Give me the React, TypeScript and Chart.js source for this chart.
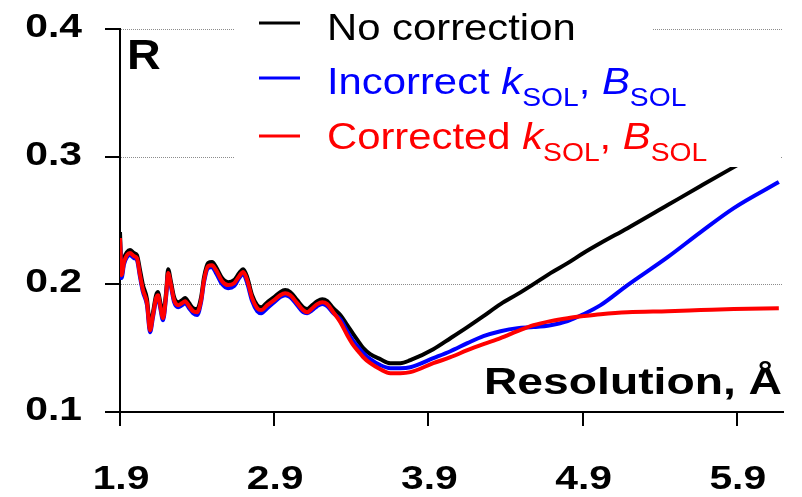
import React, { useEffect, useRef } from 'react';
import { Chart, registerables } from 'chart.js';

Chart.register(...registerables);

// ---- data ----
const resolution = [
  1.900, 1.910, 1.926, 1.945, 1.965, 1.991, 2.010, 2.030, 2.049, 2.075,
  2.095, 2.114, 2.134, 2.147, 2.160, 2.179, 2.199, 2.212, 2.231, 2.251,
  2.277, 2.303, 2.322, 2.348, 2.374, 2.400, 2.426, 2.445, 2.471, 2.497,
  2.523, 2.562, 2.601, 2.640, 2.673, 2.699, 2.725, 2.757, 2.790, 2.816,
  2.855, 2.900, 2.939, 2.971, 3.004, 3.049, 3.088, 3.114, 3.147, 3.179,
  3.212, 3.244, 3.283, 3.329, 3.374, 3.413, 3.445, 3.478, 3.523, 3.588,
  3.653, 3.718, 3.783, 3.932, 4.043, 4.153, 4.257, 4.368, 4.478, 4.582,
  4.692, 4.803, 4.906, 5.017, 5.192, 5.452, 5.666, 5.881, 6.173,
];

const rNoCorrection = [
  0.2409, 0.2111, 0.2205, 0.2252, 0.2268, 0.2245, 0.2229, 0.2111, 0.1994, 0.1884,
  0.1672, 0.1782, 0.1915, 0.1939, 0.1868, 0.1766, 0.1939, 0.2119, 0.2017, 0.1900,
  0.1860, 0.1876, 0.1892, 0.1853, 0.1813, 0.1806, 0.1900, 0.2056, 0.2166, 0.2174,
  0.2135, 0.2049, 0.2017, 0.2033, 0.2088, 0.2119, 0.2056, 0.1915, 0.1837, 0.1821,
  0.1860, 0.1900, 0.1939, 0.1955, 0.1939, 0.1876, 0.1821, 0.1806, 0.1837, 0.1868,
  0.1884, 0.1868, 0.1813, 0.1759, 0.1680, 0.1610, 0.1555, 0.1500, 0.1453, 0.1414,
  0.1382, 0.1382, 0.1406, 0.1492, 0.1578, 0.1665, 0.1751, 0.1845, 0.1923, 0.2002,
  0.2088, 0.2166, 0.2245, 0.2323, 0.2440, 0.2621, 0.2770, 0.2918, 0.3114,
];

const rIncorrect = [
  0.2346, 0.2049, 0.2158, 0.2213, 0.2229, 0.2205, 0.2190, 0.2056, 0.1939, 0.1837,
  0.1625, 0.1743, 0.1876, 0.1900, 0.1821, 0.1719, 0.1900, 0.2072, 0.1978, 0.1860,
  0.1821, 0.1837, 0.1853, 0.1813, 0.1774, 0.1759, 0.1860, 0.2017, 0.2127, 0.2135,
  0.2088, 0.2002, 0.1970, 0.1986, 0.2049, 0.2080, 0.2009, 0.1868, 0.1790, 0.1774,
  0.1813, 0.1860, 0.1900, 0.1915, 0.1900, 0.1837, 0.1782, 0.1774, 0.1798, 0.1829,
  0.1845, 0.1829, 0.1774, 0.1727, 0.1633, 0.1555, 0.1508, 0.1461, 0.1414, 0.1367,
  0.1343, 0.1343, 0.1351, 0.1422, 0.1476, 0.1539, 0.1594, 0.1633, 0.1657, 0.1665,
  0.1680, 0.1712, 0.1766, 0.1837, 0.1994, 0.2213, 0.2409, 0.2597, 0.2801,
];

const rCorrected = [
  0.2362, 0.2072, 0.2174, 0.2229, 0.2245, 0.2221, 0.2205, 0.2072, 0.1955, 0.1853,
  0.1641, 0.1759, 0.1892, 0.1915, 0.1837, 0.1735, 0.1915, 0.2088, 0.1994, 0.1876,
  0.1837, 0.1853, 0.1868, 0.1829, 0.1790, 0.1782, 0.1876, 0.2033, 0.2143, 0.2150,
  0.2111, 0.2025, 0.1994, 0.2009, 0.2064, 0.2096, 0.2033, 0.1892, 0.1813, 0.1798,
  0.1837, 0.1876, 0.1915, 0.1931, 0.1915, 0.1853, 0.1798, 0.1782, 0.1813, 0.1845,
  0.1860, 0.1845, 0.1782, 0.1704, 0.1602, 0.1524, 0.1476, 0.1429, 0.1382, 0.1335,
  0.1304, 0.1304, 0.1312, 0.1382, 0.1429, 0.1484, 0.1531, 0.1578, 0.1633, 0.1680,
  0.1712, 0.1735, 0.1751, 0.1766, 0.1782, 0.1790, 0.1798, 0.1806, 0.1813,
];

const xTickValues = [1.9, 2.9, 3.9, 4.9, 5.9];
const yTickValues = [0.1, 0.2, 0.3, 0.4];
const seriesNames = ['No correction', 'Incorrect', 'Corrected'];
const seriesColors = ['#000000', '#0000ff', '#ff0000'];
const panelLabel = 'R';
const axisTitle = 'Resolution, Å';

// ---- styling helpers ----
const FAMILY = '"Liberation Sans", Arial, Helvetica, sans-serif';

function drawStretched(
  ctx: CanvasRenderingContext2D,
  text: string,
  x: number,
  y: number,
  font: string,
  color: string,
  sx: number,
  align: 'left' | 'right' | 'center' = 'left'
): number {
  ctx.save();
  ctx.font = font;
  ctx.fillStyle = color;
  ctx.textBaseline = 'alphabetic';
  ctx.textAlign = 'left';
  const w = ctx.measureText(text).width * sx;
  const left = align === 'right' ? x - w : align === 'center' ? x - w / 2 : x;
  ctx.translate(left, y);
  ctx.scale(sx, 1);
  ctx.fillText(text, 0, 0);
  ctx.restore();
  return w;
}

const annotationPlugin = {
  id: 'annotations',
  beforeDatasetsDraw(chart: any) {
    const { ctx, chartArea, scales } = chart;
    const ys = scales.y;
    ctx.save();
    ctx.strokeStyle = '#8c8c8c';
    ctx.lineWidth = 1;
    ctx.setLineDash([1, 1]);
    yTickValues.forEach((v) => {
      if (v <= ys.min) return;
      const py = Math.round(ys.getPixelForValue(v)) + 0.5;
      ctx.beginPath();
      ctx.moveTo(chartArea.left + 1, py);
      ctx.lineTo(chartArea.right, py);
      ctx.stroke();
    });
    ctx.restore();
  },
  afterDraw(chart: any) {
    const { ctx, chartArea, scales } = chart;
    const xs = scales.x;
    const ys = scales.y;

    // tick labels
    const tickFont = `bold 34px ${FAMILY}`;
    const tickSx = 1.2;
    yTickValues.forEach((v) => {
      const py = ys.getPixelForValue(v);
      drawStretched(ctx, v.toFixed(1), chartArea.left - 38, py + 8, tickFont, '#000', tickSx, 'right');
    });
    xTickValues.forEach((v) => {
      const px = xs.getPixelForValue(v);
      drawStretched(ctx, v.toFixed(1), px + 1, chartArea.bottom + 77, tickFont, '#000', tickSx, 'center');
    });

    // panel label and axis title
    drawStretched(ctx, panelLabel, chartArea.left + 7, 69, `bold 42px ${FAMILY}`, '#000', 1.11, 'left');
    drawStretched(ctx, axisTitle, chartArea.right - 1, 394, `bold 37px ${FAMILY}`, '#000', 1.25, 'right');

    // legend background
    ctx.save();
    ctx.fillStyle = '#ffffff';
    ctx.fillRect(234, 0, 419, 34);
    ctx.fillRect(234, 33, 547, 134);
    ctx.restore();

    // legend entries
    const sx = 1.13;
    const mainF = `37px ${FAMILY}`;
    const italF = `italic 37px ${FAMILY}`;
    const subF = `25px ${FAMILY}`;
    const rows = [
      { baseline: 40, sampleY: 23, parts: [{ t: seriesNames[0], f: mainF, dy: 0 }] },
      {
        baseline: 94,
        sampleY: 78,
        parts: [
          { t: seriesNames[1] + ' ', f: mainF, dy: 0 },
          { t: 'k', f: italF, dy: 0 },
          { t: 'SOL', f: subF, dy: 12 },
          { t: ', ', f: mainF, dy: 0 },
          { t: 'B', f: italF, dy: 0 },
          { t: 'SOL', f: subF, dy: 12 },
        ],
      },
      {
        baseline: 149,
        sampleY: 136,
        parts: [
          { t: seriesNames[2] + ' ', f: mainF, dy: 0 },
          { t: 'k', f: italF, dy: 0 },
          { t: 'SOL', f: subF, dy: 12 },
          { t: ', ', f: mainF, dy: 0 },
          { t: 'B', f: italF, dy: 0 },
          { t: 'SOL', f: subF, dy: 12 },
        ],
      },
    ];
    rows.forEach((row, i) => {
      const color = seriesColors[i];
      ctx.save();
      ctx.strokeStyle = color;
      ctx.lineWidth = 3;
      ctx.beginPath();
      ctx.moveTo(259, row.sampleY);
      ctx.lineTo(300, row.sampleY);
      ctx.stroke();
      ctx.restore();
      let x = 327;
      row.parts.forEach((p) => {
        x += drawStretched(ctx, p.t, x, row.baseline + p.dy, p.f, color, sx, 'left');
      });
    });
  },
};

export default function App() {
  const canvasRef = useRef<HTMLCanvasElement>(null);

  useEffect(() => {
    document.body.style.margin = '0';
    const canvas = canvasRef.current;
    if (!canvas) return;
    const mk = (vals: number[]) => resolution.map((x, i) => ({ x, y: vals[i] }));
    const chart = new Chart(canvas, {
      type: 'line',
      data: {
        datasets: [
          { label: seriesNames[0], data: mk(rNoCorrection), borderColor: seriesColors[0], order: 3 },
          { label: seriesNames[1], data: mk(rIncorrect), borderColor: seriesColors[1], order: 2 },
          { label: seriesNames[2], data: mk(rCorrected), borderColor: seriesColors[2], order: 1 },
        ].map((d) => ({
          ...d,
          borderWidth: 4,
          pointRadius: 0,
          fill: false,
          cubicInterpolationMode: 'monotone' as const,
        })),
      },
      options: {
        responsive: false,
        maintainAspectRatio: false,
        devicePixelRatio: 1,
        animation: false,
        layout: { padding: { left: 0, top: 29, right: 19, bottom: 0 } },
        plugins: { legend: { display: false }, tooltip: { enabled: false } },
        scales: {
          x: {
            type: 'linear',
            min: 1.9,
            max: 6.2,
            afterBuildTicks: (s: any) => {
              s.ticks = xTickValues.map((v) => ({ value: v }));
            },
            afterFit: (s: any) => {
              s.height = 85;
            },
            ticks: { display: false },
            grid: {
              drawOnChartArea: false,
              drawTicks: true,
              tickLength: 14,
              tickColor: '#000',
              tickWidth: 2,
              lineWidth: 2,
              color: '#000',
            },
            border: { display: true, color: '#000', width: 2 },
          },
          y: {
            type: 'linear',
            min: 0.1,
            max: 0.4,
            afterBuildTicks: (s: any) => {
              s.ticks = yTickValues.map((v) => ({ value: v }));
            },
            afterFit: (s: any) => {
              s.width = 120;
            },
            ticks: { display: false },
            grid: {
              drawOnChartArea: false,
              drawTicks: true,
              tickLength: 15,
              tickColor: '#000',
              tickWidth: 2,
              lineWidth: 2,
              color: '#000',
            },
            border: { display: true, color: '#000', width: 2 },
          },
        },
      },
      plugins: [annotationPlugin],
    } as any);
    return () => chart.destroy();
  }, []);

  return (
    <div style={{ position: 'absolute', left: 0, top: 0, width: 802, height: 497, background: '#fff' }}>
      <canvas ref={canvasRef} width={802} height={497} style={{ display: 'block' }} />
    </div>
  );
}
